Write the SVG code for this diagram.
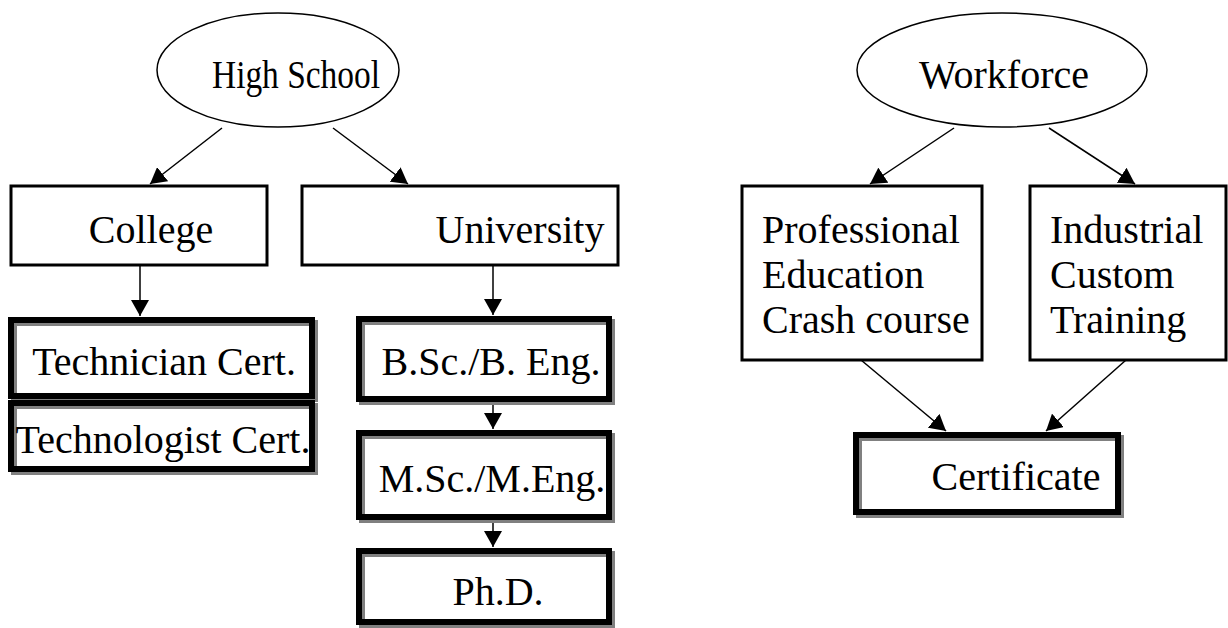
<svg xmlns="http://www.w3.org/2000/svg" width="1228" height="628" viewBox="0 0 1228 628">
<defs>
<style>
text{font-family:"Liberation Serif","Times New Roman",serif;font-size:40px;fill:#000}
.c{text-anchor:middle}
.thin{fill:#fff;stroke:#000;stroke-width:3}
.ell{fill:#fff;stroke:#000;stroke-width:1.5}
.bg{fill:#fff;stroke:none}
.sh{fill:none;stroke:#808080;stroke-width:6}
.fr{fill:none;stroke:#000;stroke-width:6}
.ln{stroke:#000;stroke-width:1.5;fill:none;marker-end:url(#ah)}
</style>
<marker id="ah" markerUnits="userSpaceOnUse" markerWidth="18" markerHeight="18" refX="16" refY="9" orient="auto">
<path d="M0,0 L16,9 L0,18 z" fill="#000"/>
</marker>
</defs>
<rect width="1228" height="628" fill="#fff"/>
<g id="connectors">
<line class="ln" x1="222" y1="128" x2="150" y2="184"/>
<line class="ln" x1="333" y1="128" x2="408" y2="184"/>
<line class="ln" x1="140" y1="265" x2="140" y2="316"/>
<line class="ln" x1="493" y1="265" x2="493" y2="315"/>
<line class="ln" x1="493" y1="403" x2="493" y2="429"/>
<line class="ln" x1="493" y1="521" x2="493" y2="547"/>
<line class="ln" x1="954" y1="128" x2="870" y2="184"/>
<line class="ln" x1="1049" y1="128" x2="1135" y2="184"/>
<line class="ln" x1="861" y1="360" x2="946" y2="431"/>
<line class="ln" x1="1126" y1="360" x2="1046" y2="431"/>
</g>
<g id="highschool">
<ellipse class="ell" cx="278" cy="70" rx="121" ry="57"/>
<text x="212" y="88" textLength="168" lengthAdjust="spacingAndGlyphs">High School</text>
</g>
<g id="college">
<rect class="thin" x="11" y="186" width="256" height="79"/>
<text class="c" x="151" y="243">College</text>
</g>
<g id="university">
<rect class="thin" x="302" y="186" width="316" height="79"/>
<text class="c" x="520" y="243">University</text>
</g>
<g id="technician">
<rect class="bg" x="11" y="320" width="301" height="76"/>
<rect class="sh" x="14" y="323" width="301" height="76"/>
<rect class="fr" x="11" y="320" width="301" height="76"/>
<text class="c" x="164" y="375">Technician Cert.</text>
</g>
<g id="technologist">
<rect class="bg" x="11" y="403" width="301" height="66"/>
<rect class="sh" x="14" y="406" width="301" height="66"/>
<rect class="fr" x="11" y="403" width="301" height="66"/>
<text class="c" x="163" y="453">Technologist Cert.</text>
</g>
<g id="bsc">
<rect class="bg" x="359" y="319" width="250" height="80"/>
<rect class="sh" x="362" y="322" width="250" height="80"/>
<rect class="fr" x="359" y="319" width="250" height="80"/>
<text class="c" x="491" y="375">B.Sc./B. Eng.</text>
</g>
<g id="msc">
<rect class="bg" x="359" y="433" width="250" height="84"/>
<rect class="sh" x="362" y="436" width="250" height="84"/>
<rect class="fr" x="359" y="433" width="250" height="84"/>
<text class="c" x="492" y="492">M.Sc./M.Eng.</text>
</g>
<g id="phd">
<rect class="bg" x="359" y="551" width="250" height="71"/>
<rect class="sh" x="362" y="554" width="250" height="71"/>
<rect class="fr" x="359" y="551" width="250" height="71"/>
<text class="c" x="498" y="605">Ph.D.</text>
</g>
<g id="workforce">
<ellipse class="ell" cx="1002" cy="70" rx="145" ry="57"/>
<text class="c" x="1004" y="88">Workforce</text>
</g>
<g id="professional">
<rect class="thin" x="742" y="186" width="240" height="174"/>
<text x="762" y="243">Professional</text>
<text x="762" y="288">Education</text>
<text x="762" y="333">Crash course</text>
</g>
<g id="industrial">
<rect class="thin" x="1030" y="186" width="196" height="174"/>
<text x="1050" y="243">Industrial</text>
<text x="1050" y="288">Custom</text>
<text x="1050" y="333">Training</text>
</g>
<g id="certificate">
<rect class="bg" x="856" y="435" width="262" height="77"/>
<rect class="sh" x="859" y="438" width="262" height="77"/>
<rect class="fr" x="856" y="435" width="262" height="77"/>
<text class="c" x="1016" y="490">Certificate</text>
</g>
</svg>
